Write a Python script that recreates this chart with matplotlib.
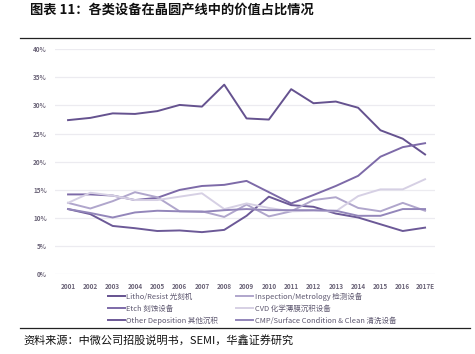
import numpy as np
import matplotlib
matplotlib.use('Agg')
import matplotlib.pyplot as plt

plt.rcParams['font.family'] = ['Noto Sans CJK SC', 'DejaVu Sans']

years = ['2001', '2002', '2003', '2004', '2005', '2006', '2007', '2008', '2009',
         '2010', '2011', '2012', '2013', '2014', '2015', '2016', '2017E']

# 各类设备价值占比 (%)
litho = [27.4, 27.8, 28.6, 28.5, 29.0, 30.1, 29.8, 33.7, 27.7, 27.5, 32.9, 30.4, 30.7, 29.6, 25.6, 24.1, 21.3]
etch = [14.2, 14.2, 14.0, 13.2, 13.6, 15.0, 15.7, 15.9, 16.6, 14.6, 12.6, 14.1, 15.7, 17.5, 20.9, 22.6, 23.3]
other_dep = [11.6, 10.7, 8.6, 8.2, 7.7, 7.8, 7.5, 7.9, 10.4, 13.8, 12.3, 12.0, 10.8, 10.1, 8.9, 7.7, 8.3]
inspection = [12.7, 11.7, 13.0, 14.6, 13.7, 11.2, 11.2, 10.2, 12.4, 10.3, 11.2, 13.2, 13.7, 11.8, 11.2, 12.7, 11.3]
cvd = [12.7, 14.5, 14.0, 13.2, 13.2, 13.8, 14.4, 11.6, 12.6, 11.8, 11.2, 11.3, 11.2, 13.9, 15.1, 15.1, 16.9]
cmp_clean = [11.6, 10.9, 10.1, 11.0, 11.3, 11.2, 11.1, 11.4, 11.6, 11.4, 11.4, 11.4, 11.3, 10.4, 10.4, 11.6, 11.6]

labels = ['Litho/Resist 光刻机', 'Etch 刻蚀设备', 'Other Deposition 其他沉积',
          'Inspection/Metrology 检测设备', 'CVD 化学薄膜沉积设备',
          'CMP/Surface Condition & Clean 清洗设备']
series = [litho, etch, other_dep, inspection, cvd, cmp_clean]
colors = ['#65528f', '#7d6aa8', '#6c5997', '#b0a6cc', '#d6d0e4', '#9386ba']

fig = plt.figure(figsize=(4.75, 3.54), dpi=100)
ax = fig.add_axes([0.116, 0.225, 0.80, 0.636])

x = np.arange(len(years))
for s, c, lab in zip(series, colors, labels):
    ax.plot(x, np.array(s) / 100, color=c, linewidth=1.4, label=lab)

ax.set_ylim(0, 0.40)
ax.set_xlim(-0.58, 16.45)
ax.set_yticks(np.arange(0, 0.41, 0.05))
ax.set_yticklabels(['%d%%' % v for v in range(0, 41, 5)])
ax.set_xticks(x)
ax.set_xticklabels(years)
ax.tick_params(length=0, labelsize=4.6, colors='#6b6478', pad=6)
for t in ax.get_xticklabels() + ax.get_yticklabels():
    t.set_fontweight('bold')
ax.grid(axis='y', color='#ecebf0', linewidth=0.9)
ax.set_axisbelow(True)
for sp in ax.spines.values():
    sp.set_visible(False)

leg = ax.legend(loc='upper left', bbox_to_anchor=(0.13, -0.068), ncol=2,
                frameon=False, fontsize=5.4, handlelength=2.3, handletextpad=0.2,
                columnspacing=2.4, labelspacing=0.5, borderaxespad=0)
for t in leg.get_texts():
    t.set_color('#5e5870')

# 标题与分隔线
fig.text(0.063, 0.972, '图表 11：各类设备在晶圆产线中的价值占比情况', fontsize=9.5,
         fontweight='bold', va='center', ha='left', color='#111111')
fig.add_artist(plt.Line2D([0.042, 0.99], [0.893, 0.893], color='#222222', linewidth=0.9))
fig.add_artist(plt.Line2D([0.042, 0.99], [0.073, 0.073], color='#222222', linewidth=0.9))
fig.text(0.05, 0.040, '资料来源：中微公司招股说明书，SEMI，华鑫证券研究', fontsize=8,
         va='center', ha='left', color='#111111')

fig.savefig('out.png', dpi=100)
